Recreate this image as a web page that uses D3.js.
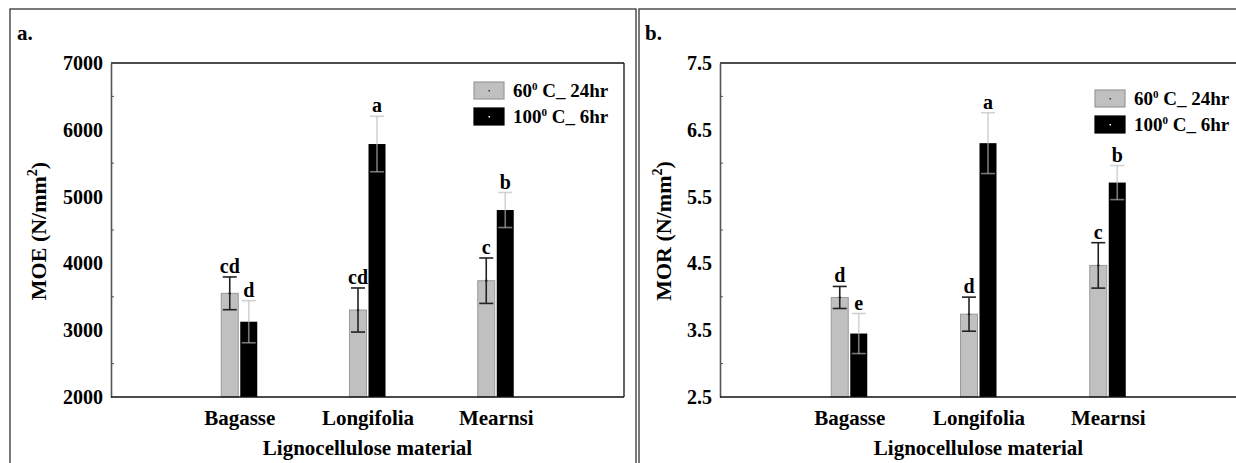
<!DOCTYPE html>
<html>
<head>
<meta charset="utf-8">
<script src="https://cdn.jsdelivr.net/npm/d3@7"></script>
<style>
  html, body { margin: 0; padding: 0; background: #fff; }
  svg { display: block; }
  text { font-family: "Liberation Serif", "Times New Roman", serif; font-weight: bold; fill: #000; }
</style>
</head>
<body>
<svg id="chart" width="1236" height="463"></svg>
<script>
// ---------- data ----------
const categories = ["Bagasse", "Longifolia", "Mearnsi"];
const seriesLabels = [["60", "0", " C_ 24hr"], ["100", "0", " C_ 6hr"]];

const moe60 = [3552, 3302, 3741];
const moe60Err = [245, 330, 340];
const moe100 = [3127, 5787, 4799];
const moe100Err = [315, 415, 262];
const moe60Letters = ["cd", "cd", "c"];
const moe100Letters = ["d", "a", "b"];
const moeTicks = [2000, 3000, 4000, 5000, 6000, 7000];
const moeMinor = [2500, 3500, 4500, 5500, 6500];

const mor60 = [3.99, 3.74, 4.47];
const mor60Err = [0.165, 0.255, 0.34];
const mor100 = [3.45, 6.30, 5.71];
const mor100Err = [0.30, 0.455, 0.255];
const mor60Letters = ["d", "d", "c"];
const mor100Letters = ["e", "a", "b"];
const morTicks = [2.5, 3.5, 4.5, 5.5, 6.5, 7.5];
const morMinor = [3.0, 4.0, 5.0, 6.0, 7.0];

const svg = d3.select("#chart");

// outer panel frames
svg.append("rect").attr("x", 10).attr("y", 9).attr("width", 626).attr("height", 470)
  .attr("fill", "none").attr("stroke", "#333").attr("stroke-width", 1.3);
svg.append("rect").attr("x", 639).attr("y", 9).attr("width", 620).attr("height", 470)
  .attr("fill", "none").attr("stroke", "#333").attr("stroke-width", 1.3);

function panel(opt) {
  const g = svg.append("g");
  const y = d3.scaleLinear().domain(opt.domain).range([397, 63]);
  const x = d3.scalePoint().domain(categories).range([opt.left, opt.right]).padding(1);

  // plot frame (top, right)
  g.append("line").attr("x1", opt.left).attr("x2", opt.right).attr("y1", 63).attr("y2", 63)
    .attr("stroke", "#111").attr("stroke-width", 1.3);
  g.append("line").attr("x1", opt.right).attr("x2", opt.right).attr("y1", 63).attr("y2", 397)
    .attr("stroke", "#111").attr("stroke-width", 1.3);

  // y axis
  const yAxis = d3.axisLeft(y).tickValues(opt.ticks).tickSize(0).tickPadding(8)
    .tickFormat(opt.fmt);
  const ya = g.append("g").attr("transform", `translate(${opt.left},0)`).call(yAxis);
  ya.select(".domain").attr("stroke", "#555").attr("stroke-width", 1.6);
  ya.selectAll("text").style("font-size", "20px").attr("fill", "#000")
    .style("font-family", "'Liberation Serif', serif").style("font-weight", "bold");
  // minor ticks inside
  g.selectAll(".minor").data(opt.minor).enter().append("line")
    .attr("x1", opt.left).attr("x2", opt.left + 3)
    .attr("y1", d => y(d)).attr("y2", d => y(d))
    .attr("stroke", "#555").attr("stroke-width", 1);

  // bars
  const barW = 17;
  const s1 = g.append("g");
  categories.forEach((c, i) => {
    const cx = x(c);
    s1.append("rect").attr("x", cx - 1 - barW).attr("y", y(opt.v1[i]))
      .attr("width", barW).attr("height", y(opt.domain[0]) - y(opt.v1[i]))
      .attr("fill", "#c0c0c0").attr("stroke", "#9a9a9a").attr("stroke-width", 1);
    s1.append("rect").attr("x", cx + 1).attr("y", y(opt.v2[i]))
      .attr("width", barW).attr("height", y(opt.domain[0]) - y(opt.v2[i]))
      .attr("fill", "#000");
  });

  // error bars
  function errBar(xc, v, e, color, opacity) {
    const t = y(v + e), b = y(v - e);
    const eg = g.append("g").attr("stroke", color).attr("stroke-opacity", opacity).attr("stroke-width", 1.6);
    eg.append("line").attr("x1", xc).attr("x2", xc).attr("y1", t).attr("y2", b);
    eg.append("line").attr("x1", xc - 7).attr("x2", xc + 7).attr("y1", t).attr("y2", t);
    eg.append("line").attr("x1", xc - 7).attr("x2", xc + 7).attr("y1", b).attr("y2", b);
  }
  categories.forEach((c, i) => {
    const cx = x(c);
    const x1 = cx - 1 - barW / 2, x2 = cx + 1 + barW / 2;
    errBar(x1, opt.v1[i], opt.e1[i], "#222", 1);
    errBar(x2, opt.v2[i], opt.e2[i], "rgb(186,186,186)", 0.64);
    g.append("circle").attr("cx", x1).attr("cy", y(opt.v1[i])).attr("r", 1.2).attr("fill", "#222");
    g.append("text").attr("x", x1).attr("y", y(opt.v1[i] + opt.e1[i]) - 4)
      .attr("text-anchor", "middle").style("font-size", "20px").text(opt.l1[i]);
    g.append("text").attr("x", x2).attr("y", y(opt.v2[i] + opt.e2[i]) - 4)
      .attr("text-anchor", "middle").style("font-size", "20px").text(opt.l2[i]);
  });

  // x axis (bottom)
  const xAxis = d3.axisBottom(x).tickSize(0).tickPadding(13);
  const xa = g.append("g").attr("transform", "translate(0,397)").call(xAxis);
  xa.select(".domain").attr("stroke", "#111").attr("stroke-width", 1.6)
    .attr("d", `M${opt.left},0H${opt.right}`);
  xa.selectAll("text").style("font-size", "21px").attr("fill", "#000")
    .style("font-family", "'Liberation Serif', serif").style("font-weight", "bold");

  // x title
  g.append("text").attr("x", (opt.left + opt.right) / 2).attr("y", 455)
    .attr("text-anchor", "middle").style("font-size", "21px").text("Lignocellulose material");

  // y title
  const yt = g.append("text")
    .attr("transform", `translate(${opt.ytx},231) rotate(-90)`)
    .attr("text-anchor", "middle").style("font-size", "22px");
  yt.append("tspan").text(opt.ytitle + " (N/mm");
  yt.append("tspan").attr("dy", -9).style("font-size", "14px").text("2");
  yt.append("tspan").attr("dy", 9).text(")");

  // panel label
  g.append("text").attr("x", opt.labelX).attr("y", 40).style("font-size", "21px").text(opt.label);

  // legend
  const lg = g.append("g").attr("transform", `translate(${opt.legX},${opt.legY})`);
  const fills = ["#c0c0c0", "#000"];
  const strokes = ["#9a9a9a", "#000"];
  seriesLabels.forEach((lab, i) => {
    const yy = i * 26;
    lg.append("rect").attr("x", 0).attr("y", yy).attr("width", 30).attr("height", 17)
      .attr("fill", fills[i]).attr("stroke", strokes[i]).attr("stroke-width", 1.2);
    lg.append("rect").attr("x", 14.5).attr("y", yy + 8).attr("width", 1.5).attr("height", 1.5)
      .attr("fill", i === 0 ? "#333" : "#fff");
    const t = lg.append("text").attr("x", 39).attr("y", yy + 15).style("font-size", "19px");
    t.append("tspan").text(lab[0]);
    t.append("tspan").attr("dy", -7).style("font-size", "11px").text(lab[1]);
    t.append("tspan").attr("dy", 7).text(lab[2]);
  });
}

panel({
  left: 111, right: 624, domain: [2000, 7000], ticks: moeTicks, minor: moeMinor,
  fmt: d3.format("d"), v1: moe60, e1: moe60Err, v2: moe100, e2: moe100Err,
  l1: moe60Letters, l2: moe100Letters, ytitle: "MOE", ytx: 46, label: "a.", labelX: 17,
  legX: 474, legY: 82
});
panel({
  left: 720, right: 1237, domain: [2.5, 7.5], ticks: morTicks, minor: morMinor,
  fmt: d3.format(".1f"), v1: mor60, e1: mor60Err, v2: mor100, e2: mor100Err,
  l1: mor60Letters, l2: mor100Letters, ytitle: "MOR", ytx: 671, label: "b.", labelX: 645,
  legX: 1095, legY: 90
});
</script>
</body>
</html>
